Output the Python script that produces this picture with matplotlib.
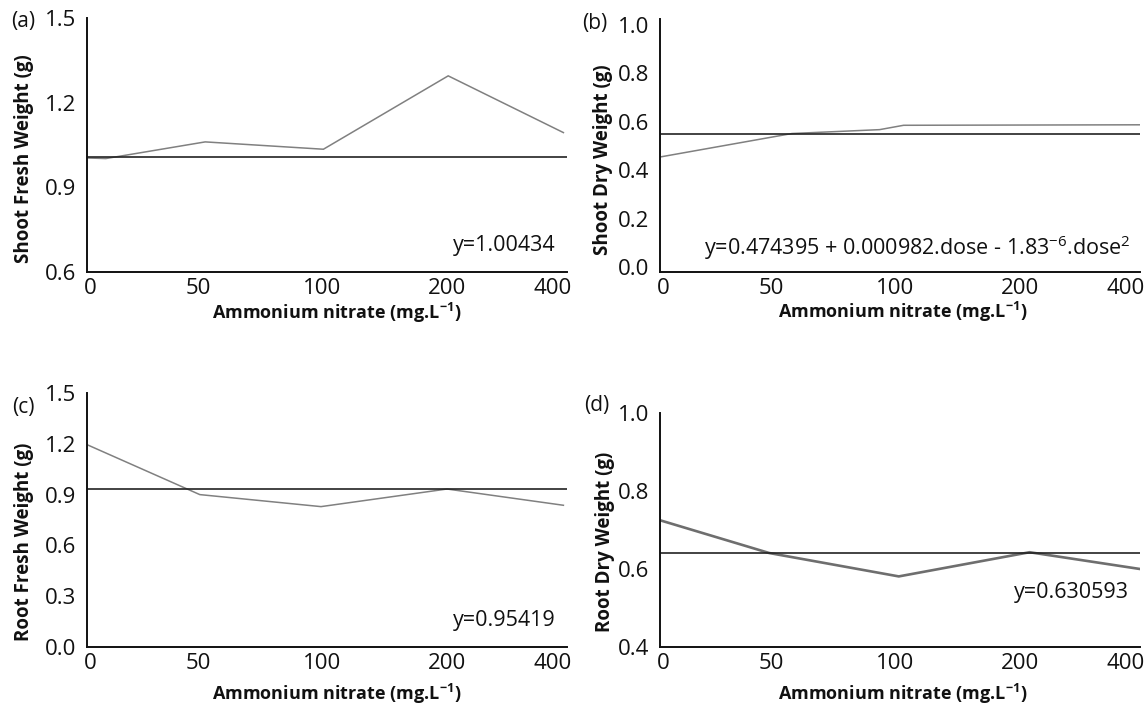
import matplotlib
matplotlib.use("Agg")
import matplotlib.pyplot as plt

plt.rcParams['font.family'] = ['Open Sans', 'DejaVu Sans']
plt.rcParams['mathtext.fontset'] = 'custom'
plt.rcParams['mathtext.rm'] = 'Open Sans'
plt.rcParams['mathtext.bf'] = 'Open Sans:bold'
plt.rcParams['mathtext.it'] = 'Open Sans:italic'

# dose categories (equally spaced on the x axis)
dose_labels = ['0', '50', '100', '200', '400']
label_pos = [0.03, 0.93, 1.96, 3.0, 3.88]

# (a) shoot fresh weight
sfw_x = [0, 0.157, 0.985, 1.97, 3.01, 3.97]
sfw_y = [1.004, 1.002, 1.061, 1.035, 1.295, 1.094]
sfw_fit = 1.008

# (b) shoot dry weight
sdw_x = [0, 1.10, 1.83, 2.03, 4.0]
sdw_y = [0.455, 0.552, 0.568, 0.586, 0.588]
sdw_fit = 0.549

# (c) root fresh weight
rfw_x = [0, 0.94, 1.95, 3.0, 3.97]
rfw_y = [1.195, 0.90, 0.829, 0.933, 0.837]
rfw_fit = 0.935

# (d) root dry weight
rdw_x = [0, 0.91, 1.99, 3.08, 4.0]
rdw_y = [0.725, 0.641, 0.581, 0.643, 0.600]
rdw_fit = 0.641

xlabel = r'Ammonium nitrate (mg.L$^{\mathbf{-1}}$)'

fig = plt.figure(figsize=(11.48, 7.06), dpi=100)


def panel(rect, x, y, fit, ylim, yticks, ylab, eq, eq_pos, ylab_pos, xlab_pos,
          line_color='#808080', line_w=1.1):
    ax = fig.add_axes(rect)
    ax.plot(x, y, color=line_color, lw=line_w, solid_joinstyle='miter')
    ax.axhline(fit, color='#222222', lw=1.2)
    ax.set_xlim(0, 4)
    ax.set_ylim(*ylim)
    ax.set_yticks(yticks)
    ax.set_yticklabels([f'{t:.1f}' for t in yticks])
    ax.set_xticks(label_pos)
    ax.set_xticklabels(dose_labels)
    ax.tick_params(length=0, labelsize=16, labelcolor='#111111')
    ax.tick_params(axis='y', pad=8)
    ax.tick_params(axis='x', pad=4)
    for s in ['top', 'right']:
        ax.spines[s].set_visible(False)
    for s in ['left', 'bottom']:
        ax.spines[s].set_linewidth(1.4)
        ax.spines[s].set_color('#111111')
    ax.text(eq_pos[0], eq_pos[1], eq, transform=ax.transAxes, ha='right',
            va='center', fontsize=15.5, color='#111111')
    ax.text(ylab_pos[0], ylab_pos[1], ylab, transform=ax.transAxes,
            rotation=90, ha='center', va='center', fontsize=13.5,
            fontweight='bold', color='#111111')
    ax.text(xlab_pos[0], xlab_pos[1], xlabel, transform=ax.transAxes,
            ha='center', va='center', fontsize=13, fontweight='bold',
            color='#111111')
    return ax


W, H = 1148, 706
w = 480 / W

panel([87 / W, 1 - 272 / H, w, 254 / H], sfw_x, sfw_y, sfw_fit, (0.6, 1.5),
      [0.6, 0.9, 1.2, 1.5], 'Shoot Fresh Weight (g)', 'y=1.00434',
      (0.977, 0.106), (-0.131, 0.445), (0.52, -0.161))

panel([660 / W, 1 - 272 / H, w, 253 / H], sdw_x, sdw_y, sdw_fit, (-0.02, 1.025),
      [0.0, 0.2, 0.4, 0.6, 0.8, 1.0], 'Shoot Dry Weight (g)',
      r'y=0.474395 + 0.000982.dose - 1.83$^{-6}$.dose$^{2}$',
      (0.981, 0.098), (-0.119, 0.445), (0.506, -0.157))

panel([87 / W, 1 - 647 / H, w, 254 / H], rfw_x, rfw_y, rfw_fit, (0.0, 1.5),
      [0.0, 0.3, 0.6, 0.9, 1.2, 1.5], 'Root Fresh Weight (g)', 'y=0.95419',
      (0.977, 0.106), (-0.131, 0.413), (0.52, -0.185))

panel([660 / W, 1 - 647 / H, w, 234 / H], rdw_x, rdw_y, rdw_fit, (0.4, 1.0),
      [0.4, 0.6, 0.8, 1.0], 'Root Dry Weight (g)', 'y=0.630593',
      (0.977, 0.231), (-0.115, 0.449), (0.506, -0.201),
      line_color='#6e6e6e', line_w=1.9)

for letter, px, py in [('(a)', 23, 22), ('(b)', 595, 24), ('(c)', 23, 407), ('(d)', 597, 405)]:
    fig.text(px / W, 1 - py / H, letter, ha='center', va='center', fontsize=15,
             color='#111111')

fig.savefig('out.png', dpi=100)
